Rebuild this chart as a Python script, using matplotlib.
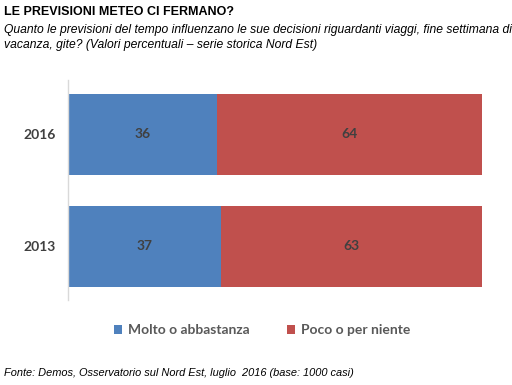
import matplotlib.pyplot as plt

years = ['2013', '2016']
molto = [37, 36]
poco = [63, 64]
series_names = ['Molto o abbastanza', 'Poco o per niente']
colors = ['#4F81BD', '#C0504D']

fig = plt.figure(figsize=(5.12, 3.85), dpi=100)
ax = fig.add_axes([0.1328, 0.2208, 0.8086, 0.5714])

pos = range(len(years))
b1 = ax.barh(pos, molto, height=0.72, color=colors[0], label=series_names[0])
b2 = ax.barh(pos, poco, left=molto, height=0.72, color=colors[1], label=series_names[1])

lab_font = dict(family=['Lato', 'DejaVu Sans'], weight='bold', color='#404040', fontsize=10)
for i in pos:
    ax.text(molto[i] / 2, i, str(molto[i]), ha='center', va='center', **lab_font)
    ax.text(molto[i] + poco[i] / 2, i, str(poco[i]), ha='center', va='center', **lab_font)

ax.set_xlim(0, 100)
ax.set_ylim(-0.478, 1.482)
ax.set_yticks(list(pos))
ax.set_yticklabels(years, **lab_font)
ax.tick_params(axis='y', length=0, pad=9)
ax.set_xticks([])
for s in ['top', 'right', 'bottom']:
    ax.spines[s].set_visible(False)
ax.spines['left'].set_color('#D9D9D9')
ax.spines['left'].set_linewidth(1)

leg = fig.legend(handles=[b1, b2], loc='center', bbox_to_anchor=(0.512, 1 - 330 / 385), ncol=2,
                 frameon=False, handlelength=0.6, handleheight=0.6, handletextpad=0.4,
                 columnspacing=2.7, prop=dict(family=['Lato', 'DejaVu Sans'], weight='bold', size=10))
for t in leg.get_texts():
    t.set_color('#595959')

fig.text(4 / 512, 1 - 12 / 385, 'LE PREVISIONI METEO CI FERMANO?', family='Liberation Sans',
         weight='bold', fontsize=9, va='center', ha='left')
fig.text(4 / 512, 1 - 30 / 385, 'Quanto le previsioni del tempo influenzano le sue decisioni riguardanti viaggi, fine settimana di',
         family='Liberation Sans', style='italic', fontsize=8.7, va='center', ha='left')
fig.text(4 / 512, 1 - 45 / 385, 'vacanza, gite? (Valori percentuali – serie storica Nord Est)',
         family='Liberation Sans', style='italic', fontsize=8.7, va='center', ha='left')
fig.text(4 / 512, 1 - 373 / 385, 'Fonte: Demos, Osservatorio sul Nord Est, luglio  2016 (base: 1000 casi)',
         family='Liberation Sans', style='italic', fontsize=7.9, va='center', ha='left')

fig.savefig('out.png', dpi=100)
